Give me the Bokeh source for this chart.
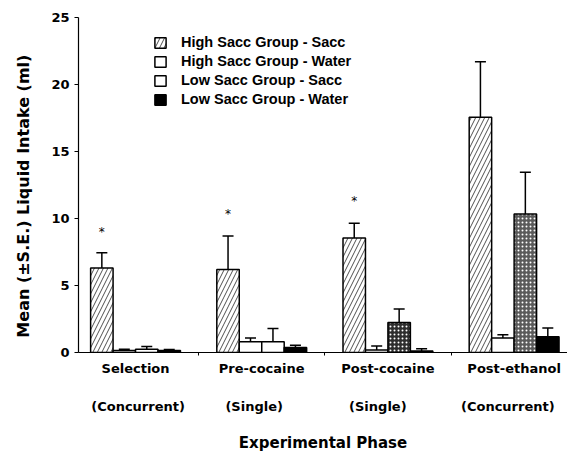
import numpy as np
from bokeh.plotting import figure
from bokeh.models import (Range1d, LinearAxis, FixedTicker, Whisker, TeeHead,
                          ColumnDataSource, Legend, LegendItem)
from bokeh.core.properties import value
from bokeh.embed import file_html
from bokeh.resources import INLINE

# ---------------- data ----------------
phases = ["Selection", "Pre-cocaine", "Post-cocaine", "Post-ethanol"]
procedures = ["(Concurrent)", "(Single)", "(Single)", "(Concurrent)"]
series_names = ["High Sacc Group - Sacc", "High Sacc Group - Water",
                "Low Sacc Group - Sacc", "Low Sacc Group - Water"]
x_title = "Experimental Phase"
y_title = "Mean  (\u00b1S.E.)  Liquid  Intake  (ml)"

hs_sacc = [6.3, 6.2, 8.55, 17.55]
hs_sacc_se = [1.15, 2.5, 1.1, 4.15]
hs_water = [0.15, 0.8, 0.18, 1.08]
hs_water_se = [0.1, 0.28, 0.3, 0.24]
ls_sacc = [0.25, 0.8, 2.24, 10.34]
ls_sacc_se = [0.2, 0.99, 1.0, 3.11]
ls_water = [0.15, 0.37, 0.12, 1.17]
ls_water_se = [0.07, 0.18, 0.16, 0.65]

star_phase = [0, 1, 2]          # phases marked with *
star_y = [9.0, 10.3, 11.3]      # height of the * marks
y_ticks = [0, 5, 10, 15, 20, 25]

# ---------------- styles ----------------
BAR_W = 0.178
offsets = [-1.5 * BAR_W, -0.5 * BAR_W, 0.5 * BAR_W, 1.5 * BAR_W]
ls_sacc_fill = ["white", "white", "#2e2e2e", "#5a5a5a"]
BOLD = "DejaVu Sans"

p = figure(width=567, height=454, output_backend="svg", toolbar_location=None,
           x_range=Range1d(-0.452, 3.423), y_range=Range1d(0, 25),
           x_axis_type=None, y_axis_type=None,
           min_border_left=78, min_border_right=0, min_border_top=17,
           min_border_bottom=102)
p.outline_line_color = None
p.xgrid.visible = False
p.ygrid.visible = False
p.background_fill_color = "white"
p.border_fill_color = "white"

x0 = np.arange(len(phases))

series = [
    (hs_sacc, hs_sacc_se, dict(fill_color="white", hatch_pattern="right_diagonal_line",
                               hatch_color="#222222", hatch_scale=9, hatch_weight=0.8)),
    (hs_water, hs_water_se, dict(fill_color="white")),
    (ls_sacc, ls_sacc_se, dict(fill_color=ls_sacc_fill, hatch_pattern="dot",
                               hatch_color="white", hatch_scale=4, hatch_weight=1)),
    (ls_water, ls_water_se, dict(fill_color="black")),
]

items = []
for k, (vals, se, style) in enumerate(series):
    src = ColumnDataSource(dict(x=x0 + offsets[k], top=vals,
                                upper=np.array(vals) + np.array(se)))
    if isinstance(style.get("fill_color"), list):
        src.data["fc"] = style.pop("fill_color")
        style["fill_color"] = "fc"
    r = p.vbar(x="x", top="top", bottom=0, width=BAR_W, source=src,
               line_color="black", line_width=1.5, **style)
    items.append(LegendItem(label=series_names[k], renderers=[r]))
    wh = Whisker(base="x", lower="top", upper="upper", source=src,
                 lower_head=None,
                 upper_head=TeeHead(size=11, line_width=1.5, line_color="black"),
                 line_width=1.5, line_color="black")
    p.add_layout(wh)

# significance marks
p.text(x=[x0[i] + offsets[0] for i in star_phase], y=star_y,
       text=["*"] * len(star_phase), text_align="center", text_baseline="middle",
       text_font=value(BOLD), text_font_size="12px", text_color="#000000")

# y axis
yax = LinearAxis(ticker=FixedTicker(ticks=y_ticks),
                 axis_label=y_title,
                 axis_label_text_font=BOLD, axis_label_text_font_size="16px",
                 axis_label_text_font_style="bold", axis_label_standoff=15,
                 axis_label_text_color="black",
                 major_label_text_font=BOLD, major_label_text_font_size="13px",
                 major_label_text_font_style="bold", major_label_standoff=5,
                 major_label_text_color="black",
                 major_tick_in=0, major_tick_out=4, minor_tick_out=0, minor_tick_in=0,
                 axis_line_width=1.2)
p.add_layout(yax, "left")

# x axis: phase names + between-group ticks
xax = LinearAxis(ticker=FixedTicker(ticks=list(x0.astype(float)),
                                    minor_ticks=[0.5, 1.5, 2.5]),
                 major_label_overrides={float(i): phases[i] for i in x0},
                 major_label_text_font=BOLD, major_label_text_font_size="13px",
                 major_label_text_font_style="bold", major_label_standoff=5,
                 major_label_text_color="black",
                 major_tick_in=0, major_tick_out=0, minor_tick_in=0, minor_tick_out=3,
                 axis_line_width=1.2)
p.add_layout(xax, "below")

# second row: procedure + x title
proc_x = [0.02, 0.94, 1.92, 2.95]
xax2 = LinearAxis(ticker=FixedTicker(ticks=proc_x),
                  major_label_overrides={proc_x[i]: procedures[i] for i in range(4)},
                  major_label_text_font=BOLD, major_label_text_font_size="13px",
                  major_label_text_font_style="bold", major_label_standoff=20,
                  major_label_text_color="black",
                  major_tick_in=0, major_tick_out=0, minor_tick_in=0, minor_tick_out=0,
                  axis_line_color=None,
                  axis_label=x_title, axis_label_text_font=BOLD,
                  axis_label_text_font_size="15px", axis_label_text_font_style="bold",
                  axis_label_text_color="black",
                  axis_label_standoff=17)
p.add_layout(xax2, "below")

legend = Legend(items=items, location=(75, 245), padding=0, margin=0,
                border_line_color=None, background_fill_alpha=0,
                glyph_width=14, glyph_height=13, label_height=13, spacing=3,
                label_standoff=14, label_text_font="Liberation Sans",
                label_text_color="black",
                label_text_font_size="14.5px", label_text_font_style="bold")
p.add_layout(legend, "center")

open("out.html", "w").write(file_html(p, INLINE))
